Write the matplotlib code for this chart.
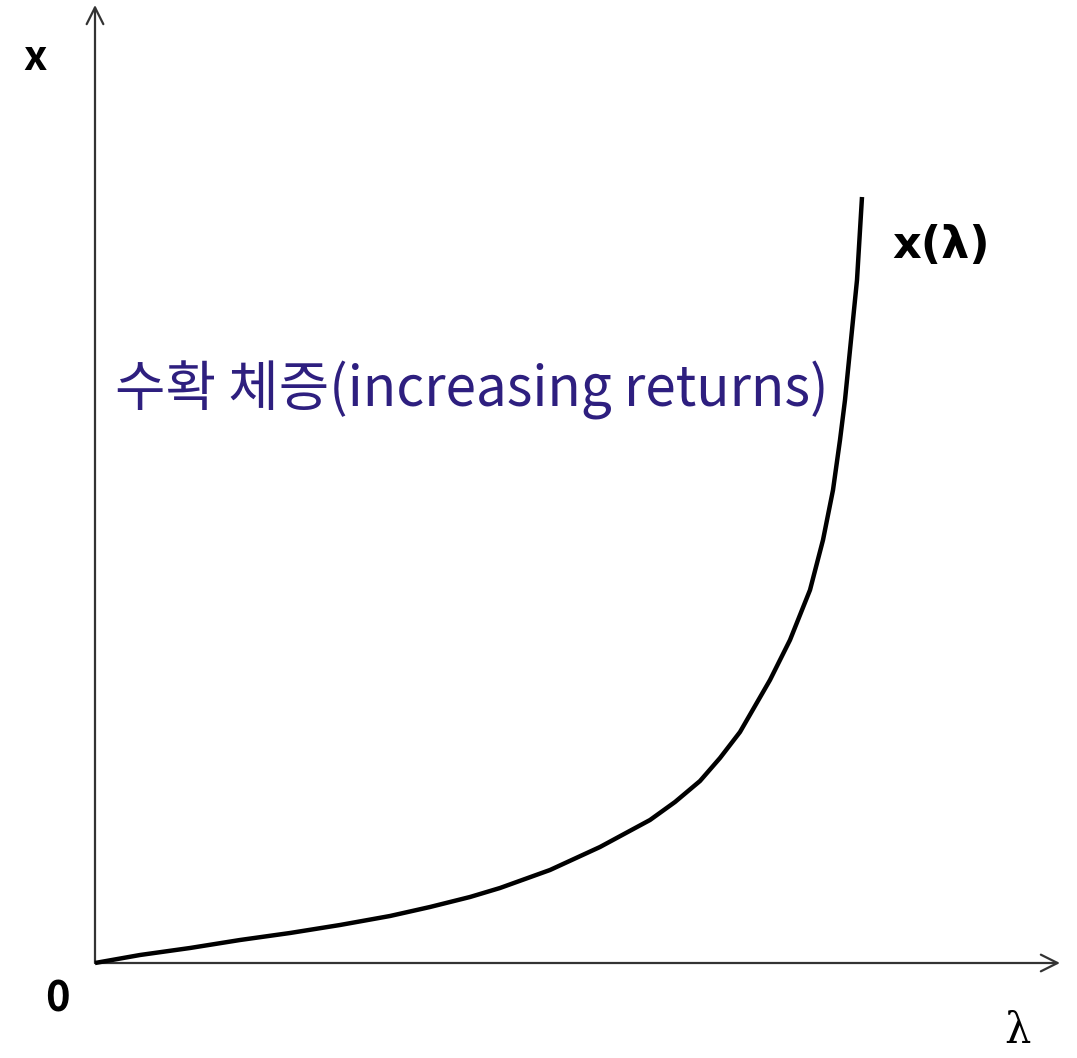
import numpy as np
import matplotlib.pyplot as plt
from matplotlib.patches import FancyArrowPatch

plt.rcParams['font.family'] = ['Noto Sans CJK KR', 'DejaVu Sans']

# curve x(lambda) (origin at the axes corner)
lam_vals = [0, 45, 95, 145, 195, 245, 295, 335, 375, 405, 455, 505, 555, 580, 605,
            625, 645, 675, 695, 715, 728, 738, 745, 750, 755, 762, 767]
x_vals = [0, 8, 15, 23, 30, 38, 47, 56, 66, 75, 93, 116, 143, 161, 182,
          205, 231, 283, 323, 373, 423, 473, 523, 563, 613, 683, 766]

# axis extents
x_axis_end = 965
y_axis_end = 958

label_curve = 'x(λ)'
label_region = '수확 체증(increasing returns)'
text_color = '#2e1f7f'

fig = plt.figure(figsize=(10.77, 10.58), dpi=100)
ax = fig.add_axes([0, 0, 1, 1])
ax.set_xlim(-95, 982)
ax.set_ylim(-95, 963)
ax.axis('off')

# axes as arrows
for end in [(x_axis_end, 0), (0, y_axis_end)]:
    arr = FancyArrowPatch((0, 0), end, arrowstyle='->,head_length=12,head_width=6',
                          color='#333333', lw=1.6, mutation_scale=1,
                          shrinkA=0, shrinkB=0)
    ax.add_patch(arr)

ax.plot(lam_vals, x_vals, color='black', lw=3.2, solid_capstyle='butt',
        solid_joinstyle='round')

# labels
ax.text(-60, 905, 'x', fontsize=30, fontweight='bold', ha='center', va='center')
ax.text(-38, -37, '0', fontsize=30, fontweight='bold', ha='center', va='center')
ax.text(922, -68, 'λ', fontsize=30, ha='center', va='center',
        family=['DejaVu Serif'])
ax.text(797, 717, label_curve, fontsize=32, fontweight='bold', ha='left', va='center',
        family=['DejaVu Sans'])
ax.text(20, 573, label_region, fontsize=39.5, color=text_color, ha='left', va='center')

fig.savefig('out.png', dpi=100)
